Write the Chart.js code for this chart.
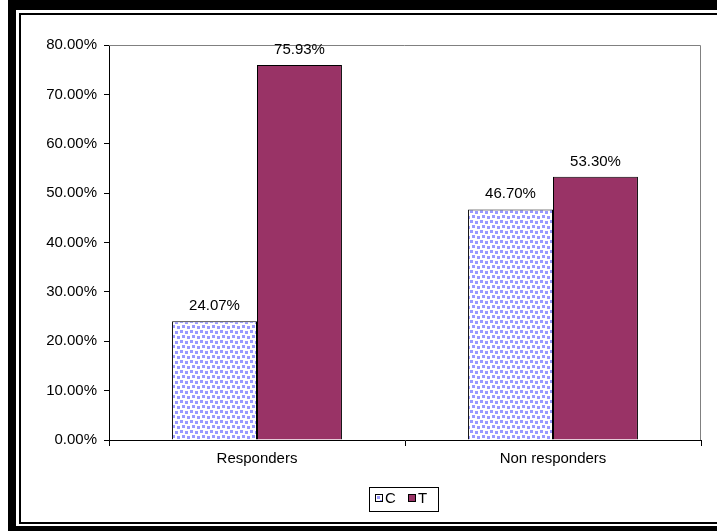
<!DOCTYPE html>
<html>
<head>
<meta charset="utf-8">
<title>Responders / Non responders</title>
<script src="https://cdn.jsdelivr.net/npm/chart.js@4/dist/chart.umd.min.js"></script>
<style>
  html, body { margin: 0; padding: 0; background: #fff; }
  #wrap { width: 717px; height: 531px; }
</style>
</head>
<body>
<div id="wrap"><canvas id="chart" width="717" height="531"></canvas></div>
<script>
// Percent of patients in each group
const groups = ['Responders', 'Non responders'];
const seriesC = [24.07, 46.70];
const seriesT = [75.93, 53.30];
const seriesNames = ['C', 'T'];
const yMax = 80;
const yStep = 10;

const FONT = 'Liberation Sans, Arial, sans-serif';

// Dotted fill used for the C bars
function makeDotPattern() {
    const tile = document.createElement('canvas');
    tile.width = 10;
    tile.height = 10;
    const t = tile.getContext('2d');
    t.fillStyle = '#ffffff';
    t.fillRect(0, 0, 10, 10);
    t.fillStyle = '#9999ff';
    [[0, 0], [5, 1], [2, 5], [7, 6]].forEach(([x, y]) => t.fillRect(x, y, 3, 3));
    return t.createPattern(tile, 'repeat');
}
const dots = makeDotPattern();

// Background, double frame and the grey plot border
const framePlugin = {
    id: 'frame',
    beforeDraw(chart) {
        const ctx = chart.ctx;
        ctx.save();
        ctx.fillStyle = '#fff';
        ctx.fillRect(0, 0, chart.width, chart.height);
        ctx.fillStyle = '#000';
        // thick outer frame
        ctx.fillRect(8, 0, 8, chart.height);
        ctx.fillRect(8, 0, chart.width - 8, 10);
        ctx.fillRect(8, 526, chart.width - 8, 5);
        // thin inner frame
        ctx.fillRect(19, 13, 2, 511);
        ctx.fillRect(19, 13, chart.width - 19, 2);
        ctx.fillRect(19, 522, chart.width - 19, 2);
        ctx.restore();
    },
    beforeDatasetsDraw(chart) {
        const a = chart.chartArea;
        const ctx = chart.ctx;
        ctx.save();
        ctx.strokeStyle = '#808080';
        ctx.lineWidth = 1;
        ctx.beginPath();
        ctx.moveTo(a.left, a.top + 0.5);
        ctx.lineTo(a.right - 0.5, a.top + 0.5);
        ctx.lineTo(a.right - 0.5, a.bottom);
        ctx.stroke();
        ctx.restore();
    }
};

// Value labels above each bar
const valueLabels = {
    id: 'valueLabels',
    afterDatasetsDraw(chart) {
        const ctx = chart.ctx;
        ctx.save();
        ctx.font = '15px ' + FONT;
        ctx.fillStyle = '#000';
        ctx.textAlign = 'center';
        ctx.textBaseline = 'alphabetic';
        chart.data.datasets.forEach((ds, i) => {
            chart.getDatasetMeta(i).data.forEach((bar, j) => {
                ctx.fillText(ds.data[j].toFixed(2) + '%', bar.x, bar.y - 11);
            });
        });
        ctx.restore();
    }
};

// Boxed legend under the axis
const boxLegend = {
    id: 'boxLegend',
    afterDraw(chart) {
        const ctx = chart.ctx;
        const cx = (chart.chartArea.left + chart.chartArea.right) / 2;
        const left = cx - 36, top = 487, w = 69, h = 24;
        ctx.save();
        ctx.strokeStyle = '#000';
        ctx.lineWidth = 1;
        ctx.strokeRect(left + 0.5, top + 0.5, w, h);
        ctx.font = '15px ' + FONT;
        ctx.textBaseline = 'middle';
        let x = left + 6;
        chart.data.datasets.forEach(ds => {
            ctx.fillStyle = ds.backgroundColor;
            ctx.fillRect(x, top + 7, 7, 7);
            ctx.strokeStyle = '#000';
            ctx.strokeRect(x + 0.5, top + 7.5, 7, 7);
            ctx.fillStyle = '#000';
            ctx.fillText(ds.label, x + 10, top + 12);
            x += 33;
        });
        ctx.restore();
    }
};

new Chart(document.getElementById('chart'), {
    type: 'bar',
    data: {
        labels: groups,
        datasets: [
            { label: seriesNames[0], data: seriesC, backgroundColor: dots, borderColor: '#000', borderWidth: 1 },
            { label: seriesNames[1], data: seriesT, backgroundColor: '#993366', borderColor: '#000', borderWidth: 1 }
        ]
    },
    options: {
        responsive: false,
        animation: false,
        layout: { padding: { top: 45, right: 16, bottom: 0, left: 0 } },
        datasets: { bar: { categoryPercentage: 0.574, barPercentage: 1, borderSkipped: 'bottom' } },
        plugins: {
            legend: { display: false },
            tooltip: { enabled: false }
        },
        scales: {
            x: {
                afterFit(scale) { scale.height = 91; },
                grid: { drawOnChartArea: false, tickLength: 6, color: '#000', offset: true },
                border: { color: '#000' },
                ticks: { color: '#000', padding: 4, font: { family: FONT, size: 15 } }
            },
            y: {
                min: 0,
                max: yMax,
                afterFit(scale) { scale.width = 109; },
                grid: { drawOnChartArea: false, tickLength: 5, color: '#000' },
                border: { color: '#000' },
                ticks: {
                    stepSize: yStep,
                    color: '#000',
                    padding: 7,
                    font: { family: FONT, size: 15 },
                    callback: v => v.toFixed(2) + '%'
                }
            }
        }
    },
    plugins: [framePlugin, valueLabels, boxLegend]
});
</script>
</body>
</html>
